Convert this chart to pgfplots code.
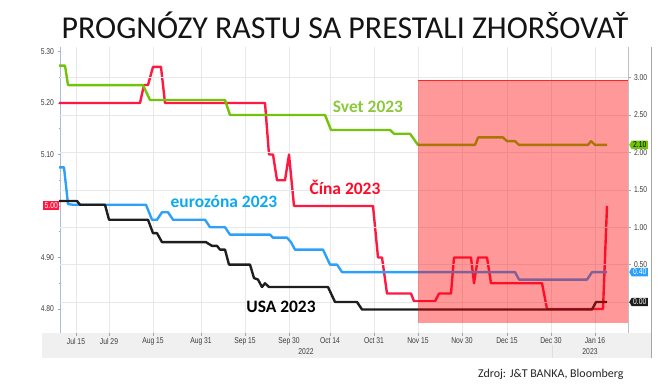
\documentclass[border=0pt]{standalone}
\usepackage{pgfplots}
\pgfplotsset{compat=1.18}
\usepackage{pgfplotstable}
\usepackage{fontspec}
\setmainfont{Carlito}
\newfontfamily\tickfont{Liberation Sans}[FakeStretch=0.8]
\usetikzlibrary{shapes.symbols}

\definecolor{svet}{RGB}{115,195,10}
\definecolor{svettxt}{RGB}{140,200,60}
\definecolor{cina}{RGB}{255,25,65}
\definecolor{cinatxt}{RGB}{255,10,40}
\definecolor{euro}{RGB}{45,160,250}
\definecolor{eurotxt}{RGB}{10,170,240}
\definecolor{usa}{RGB}{30,30,30}
\definecolor{band}{RGB}{240,240,240}
\definecolor{ticktxt}{RGB}{60,60,60}
\definecolor{yaxis}{RGB}{170,190,220}

% x = position on the chart's date axis (Jul 15 = 76 ... Jan 16 = 595)
\pgfplotstableread{
x v
59 5.20
140 5.20
144 5.235
148 5.235
153 5.27
161 5.27
165 5.20
265 5.20
269 5.10
273 5.10
277 5.05
285 5.05
289 5.10
294 5.00
373 5.00
378 4.90
382 4.90
387 4.83
411 4.83
414 4.815
435 4.815
439 4.83
451 4.83
454 4.90
471 4.90
474 4.85
478 4.90
487 4.90
491 4.85
542 4.85
547 4.80
603 4.80
607 5.00
}\cina

\pgfplotstableread{
x v
59 3.16
65 3.16
68 2.90
143 2.90
150 2.70
225 2.70
230 2.50
325 2.50
331 2.30
390 2.30
394 2.25
410 2.25
418 2.10
475 2.10
478 2.20
503 2.20
507 2.15
515 2.15
519 2.10
588 2.10
591 2.15
595 2.10
607 2.10
}\svet

\pgfplotstableread{
x v
59 1.80
64 1.80
68 1.31
73 1.30
146 1.30
152 1.10
157 1.10
162 1.20
168 1.20
173 1.10
205 1.10
210 1.00
225 1.00
230 0.90
270 0.90
273 0.86
287 0.86
291 0.80
295 0.70
323 0.70
330 0.50
337 0.50
342 0.40
515 0.40
519 0.30
587 0.30
592 0.40
607 0.40
}\euro

\pgfplotstableread{
x v
59 1.35
77 1.35
80 1.30
105 1.30
109 1.10
148 1.10
153 0.92
157 0.92
162 0.80
206 0.80
212 0.75
217 0.75
220 0.70
225 0.70
229 0.50
250 0.50
254 0.32
258 0.30
262 0.20
265 0.25
269 0.20
328 0.20
335 0.00
357 0.00
362 -0.10
592 -0.10
596 0.00
607 0.00
}\usa

\pgfplotsset{
  common/.style={
    at={(60bp,56bp)}, anchor=south west, scale only axis,
    width=568bp, height=286bp, xmin=60, xmax=628, clip=false,
    /pgf/number format/assume math mode=true,
    tick label style={font=\tickfont\fontsize{8.5}{9}\selectfont, text=ticktxt},
    yticklabel style={/pgf/number format/.cd, fixed, fixed zerofill, precision=2},
    grid style={gray!18, line width=0.4pt},
    tick style={gray!70, line width=0.5pt},
    major tick length=2.5bp, minor tick length=1.5bp, tick align=outside,
  },
}

\begin{document}
\begin{tikzpicture}[x=1bp,y=1bp]
\path[use as bounding box] (0,0) rectangle (661,389);
\fill[band] (42,31) rectangle (651,56);
\draw[gray!25, line width=0.5] (552,31) -- (552,44);
\draw[gray!70, line width=0.8] (651,31) -- (651,342);
\node[font=\fontsize{32}{32}\selectfont, text=black!92] at (345,364) {PROGNÓZY RASTU SA PRESTALI ZHORŠOVAŤ};

\begin{axis}[common,
  ymin=4.7534, ymax=5.3087,
  axis x line*=bottom, axis y line*=left,
  x axis line style={draw=none},
  y axis line style={draw=yaxis, line width=0.8pt},
  xtick={76,109,153,201,245,289,330,374,418,462,507,551,595},
  xticklabels={Jul 15,Jul 29,Aug 15,Aug 31,Sep 15,Sep 30,Oct 14,Oct 31,Nov 15,Nov 30,Dec 15,Dec 30,Jan 16},
  xmajorgrids,
  ytick={4.8,4.9,5.1,5.2,5.3},
  minor ytick={4.85,4.95,5.0,5.05,5.15,5.25},
  xticklabel style={yshift=1bp},
]
\addplot[cina, line width=2.4pt, line join=round] table[x=x,y=v] {\cina};
\node[fill=cina, text=white, anchor=east, font=\tickfont\fontsize{8.5}{9}\selectfont, inner xsep=1.5bp, inner ysep=1.5bp] at (axis cs:59.5,5.00) {5.00};
\end{axis}

\begin{axis}[common,
  ymin=-0.4144, ymax=3.409,
  hide x axis,
  axis y line*=right,
  y axis line style={draw=gray!50, line width=0.6pt},
  ytick={0,0.5,1,1.5,2,2.5,3},
  ymajorgrids,
]
\addplot[euro, line width=2.4pt, line join=round] table[x=x,y=v] {\euro};
\addplot[usa, line width=2.4pt, line join=round] table[x=x,y=v] {\usa};
\addplot[svet, line width=2.4pt, line join=round] table[x=x,y=v] {\svet};
\fill[red, fill opacity=0.4] (axis cs:418,-0.28) rectangle (axis cs:628,2.97);
\draw[red!85, line width=0.6pt] (axis cs:418,2.97) -- (axis cs:628,2.97);
\node[signal, signal to=west, signal pointer angle=120, fill=svet, text=black, anchor=west, font=\tickfont\fontsize{8.5}{9}\selectfont, inner xsep=1.5bp, inner ysep=1.2bp] at (axis cs:629,2.10) {2.10};
\node[signal, signal to=west, signal pointer angle=120, fill=euro, text=white, anchor=west, font=\tickfont\fontsize{8.5}{9}\selectfont, inner xsep=1.5bp, inner ysep=1.2bp] at (axis cs:629,0.40) {0.40};
\node[signal, signal to=west, signal pointer angle=120, fill=usa, text=white, anchor=west, font=\tickfont\fontsize{8.5}{9}\selectfont, inner xsep=1.5bp, inner ysep=1.2bp] at (axis cs:629,0.00) {0.00};
\end{axis}

\node[text=svettxt, font=\bfseries\fontsize{17.5}{18}\selectfont] at (368,282) {Svet 2023};
\node[text=cinatxt, font=\bfseries\fontsize{17.5}{18}\selectfont] at (345,202) {Čína 2023};
\node[text=eurotxt, font=\bfseries\fontsize{17.5}{18}\selectfont] at (224,187) {eurozóna 2023};
\node[text=black, font=\bfseries\fontsize{17.5}{18}\selectfont] at (281,82) {USA 2023};
\node[font=\tickfont\fontsize{8.5}{9}\selectfont, text=ticktxt] at (306,37) {2022};
\node[font=\tickfont\fontsize{8.5}{9}\selectfont, text=ticktxt] at (590,37) {2023};
\node[anchor=east, font=\fontsize{12}{12}\selectfont, text=black!85] at (627,15) {Zdroj: J\&T BANKA, Bloomberg};
\end{tikzpicture}
\end{document}
